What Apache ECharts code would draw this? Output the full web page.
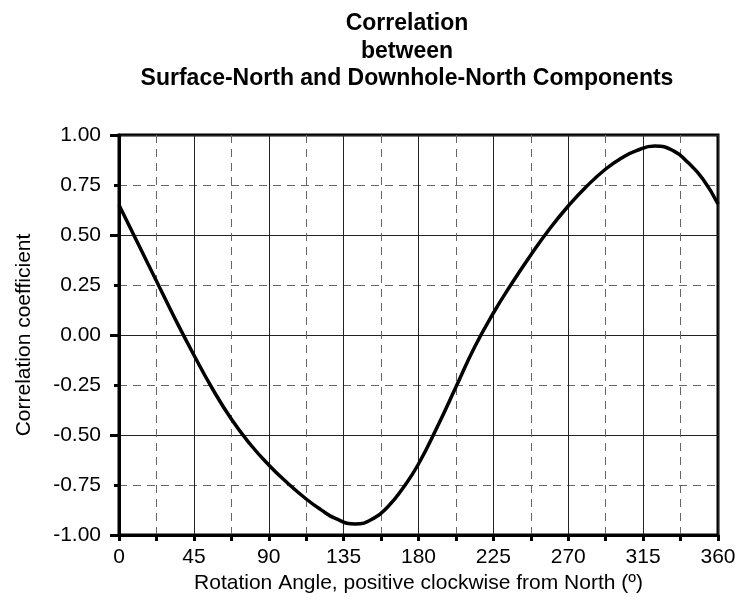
<!DOCTYPE html>
<html>
<head>
<meta charset="utf-8">
<script src="https://cdn.jsdelivr.net/npm/echarts@6/dist/echarts.min.js"></script>
<style>html,body{margin:0;padding:0;background:#fff}#c{width:750px;height:600px}</style>
</head>
<body>
<div id="c"></div>
<script>
var titleLines = ["Correlation", "between", "Surface-North and Downhole-North Components"];
var xAxisTitle = "Rotation Angle, positive clockwise from North (\u00BA)";
var yAxisTitle = "Correlation coefficient";
var angles = [0, 11.25, 22.5, 33.75, 45, 56.25, 67.5, 78.75, 90, 101.25, 112.5, 121.25, 130, 142, 153, 162, 171, 180, 191.25, 202.5, 213.75, 225, 236.25, 247.5, 258.75, 270, 281.25, 292.5, 301.5, 311, 322, 333, 342, 351, 360];
var correlation = [0.65, 0.46, 0.27, 0.08, -0.10, -0.27, -0.42, -0.545, -0.65, -0.74, -0.82, -0.873, -0.917, -0.945, -0.917, -0.855, -0.761, -0.645, -0.46, -0.26, -0.06, 0.11, 0.26, 0.40, 0.53, 0.645, 0.745, 0.83, 0.882, 0.922, 0.945, 0.922, 0.862, 0.779, 0.655];
var xMin = 0, xMax = 360, xMajor = 45;
var yMin = -1, yMax = 1, yLabelStep = 0.25, yMajor = 0.5;

var FONT = "'Liberation Sans', Arial, sans-serif";
var chart = echarts.init(document.getElementById('c'));
var pts = angles.map(function (a, i) { return [a, correlation[i]]; });

chart.setOption({
  animation: false,
  title: {
    text: titleLines.join('\n'),
    left: 402, top: 5, textAlign: 'center',
    textStyle: { fontFamily: FONT, fontSize: 23, fontWeight: 'bold', color: '#000', lineHeight: 27.5 }
  },
  grid: { left: 119, right: 32, top: 135, bottom: 65, show: true, borderColor: '#000', borderWidth: 3, backgroundColor: 'transparent' },
  xAxis: {
    type: 'value', min: xMin, max: xMax, interval: xMajor,
    name: xAxisTitle, nameLocation: 'middle', nameGap: 38,
    nameTextStyle: { fontFamily: FONT, fontSize: 21, color: '#000' },
    axisLine: { show: true, onZero: false, lineStyle: { color: '#000', width: 3 } },
    axisTick: { show: true, inside: false, length: 6, lineStyle: { color: '#000', width: 3 } },
    minorTick: { show: true, splitNumber: 2, length: 6, lineStyle: { color: '#000', width: 3 } },
    axisLabel: { margin: 12, fontFamily: FONT, fontSize: 21, color: '#000' },
    splitLine: { show: true, lineStyle: { color: '#222', width: 1, type: 'solid' } },
    minorSplitLine: { show: true, lineStyle: { color: '#666', width: 1, type: [8, 6] } }
  },
  yAxis: [{
    type: 'value', min: yMin, max: yMax, interval: yLabelStep,
    name: yAxisTitle, nameLocation: 'middle', nameGap: 84, nameRotate: 90,
    nameTextStyle: { fontFamily: FONT, fontSize: 21, color: '#000' },
    axisLine: { show: true, onZero: false, lineStyle: { color: '#000', width: 3 } },
    axisTick: { show: true, inside: false, length: 5, lineStyle: { color: '#000', width: 3 } },
    axisLabel: { margin: 18, fontFamily: FONT, fontSize: 21, color: '#000', formatter: function (v) { return v.toFixed(2); } },
    splitLine: { show: false }
  }, {
    type: 'value', min: yMin, max: yMax, interval: yMajor, position: 'left',
    axisLine: { show: false },
    axisTick: { show: true, inside: false, length: 9, lineStyle: { color: '#000', width: 3 } },
    minorTick: { show: false, splitNumber: 2 },
    axisLabel: { show: false },
    splitLine: { show: true, lineStyle: { color: '#222', width: 1, type: 'solid' } },
    minorSplitLine: { show: true, lineStyle: { color: '#666', width: 1, type: [8, 6] } }
  }],
  series: [{
    type: 'line', data: pts, smooth: 0.5, showSymbol: false, yAxisIndex: 0,
    lineStyle: { color: '#000', width: 3.5 }, z: 5
  }]
});
</script>
</body>
</html>
